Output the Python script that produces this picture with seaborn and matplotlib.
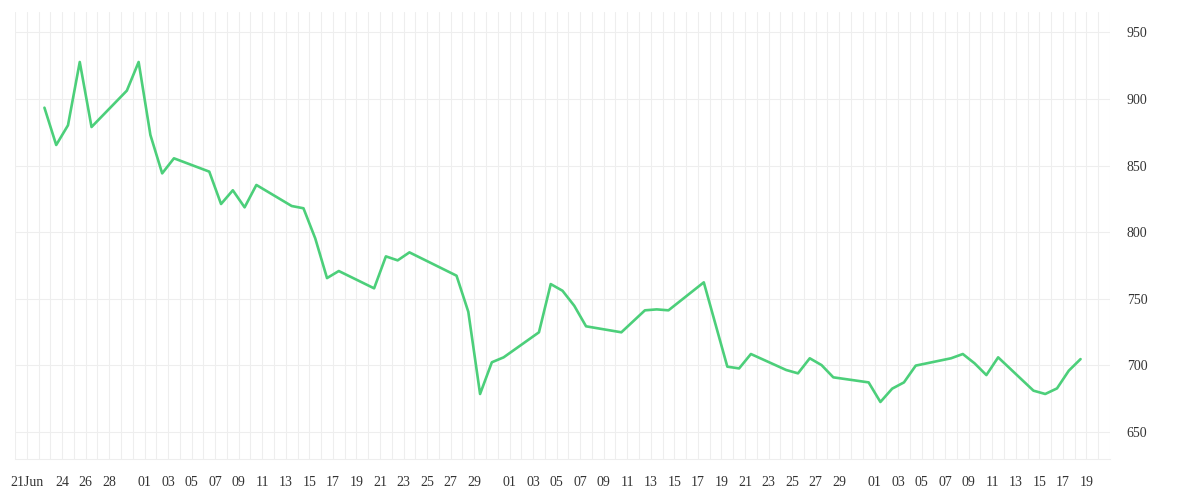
import pandas as pd
import matplotlib
matplotlib.use("Agg")
import matplotlib.pyplot as plt
import matplotlib.dates as mdates
import matplotlib.ticker as mticker
import seaborn as sns

# trading days (2020) and closing values
days = [
    "06-22", "06-23", "06-24", "06-25", "06-26", "06-29", "06-30",
    "07-01", "07-02", "07-03", "07-06", "07-07", "07-08", "07-09", "07-10",
    "07-13", "07-14", "07-15", "07-16", "07-17", "07-20", "07-21", "07-22",
    "07-23", "07-27", "07-28", "07-29", "07-30", "07-31",
    "08-03", "08-04", "08-05", "08-06", "08-07", "08-10", "08-12", "08-13",
    "08-14", "08-17", "08-19", "08-20", "08-21", "08-24", "08-25", "08-26",
    "08-27", "08-28", "08-31",
    "09-01", "09-02", "09-03", "09-04", "09-07", "09-08", "09-09", "09-10",
    "09-11", "09-14", "09-15", "09-16", "09-17", "09-18",
]
values = [
    893.4, 865.4, 880.2, 927.7, 878.9, 906.2, 927.7,
    872.9, 844.1, 855.4, 845.4, 821.1, 831.4, 818.6, 835.4,
    819.6, 817.9, 795.3, 765.5, 770.8, 757.8, 781.8, 778.8,
    784.8, 767.3, 740.2, 678.5, 702.3, 706.0,
    724.8, 761.0, 756.0, 744.7, 729.3, 724.8, 741.3, 742.0,
    741.3, 762.3, 699.0, 697.7, 708.5, 696.5, 694.0, 705.3,
    700.2, 691.0, 687.2,
    672.5, 682.5, 687.2, 699.8, 705.3, 708.5, 701.5, 692.7,
    706.0, 681.0, 678.5, 682.7, 696.0, 704.7,
]

tick_days = ["06-21", "06-24", "06-26", "06-28"] + \
    ["07-%02d" % d for d in range(1, 30, 2)] + \
    ["08-%02d" % d for d in range(1, 30, 2)] + \
    ["09-%02d" % d for d in range(1, 20, 2)]
tick_labels = ["21Jun", "24", "26", "28"] + \
    ["%02d" % d for d in range(1, 30, 2)] + \
    ["%02d" % d for d in range(1, 30, 2)] + \
    ["%02d" % d for d in range(1, 20, 2)]
y_ticks = [650, 700, 750, 800, 850, 900, 950]

df = pd.DataFrame({
    "date": pd.to_datetime(["2020-" + d for d in days]) + pd.Timedelta(hours=12),
    "value": values,
})
label_map = {pd.Timestamp("2020-" + d).date(): t for d, t in zip(tick_days, tick_labels)}

sns.set_style("white")
plt.rcParams["font.family"] = ["Liberation Serif", "DejaVu Serif"]

grid_c = "#eeeeee"
fig = plt.figure(figsize=(12, 5), dpi=100)
ax = fig.add_axes([15 / 1200, 1 - 459 / 500, 1095 / 1200, 446.7 / 500])

sns.lineplot(data=df, x="date", y="value", ax=ax, color="#4ccf7a",
             linewidth=1.9, zorder=3)

ax.set_xlim(pd.Timestamp("2020-06-20"), pd.Timestamp("2020-09-21"))
ax.set_ylim(629.7, 965)

ax.xaxis.set_major_locator(mdates.DayLocator())
ax.xaxis.set_major_formatter(mticker.FuncFormatter(
    lambda x, pos: label_map.get(mdates.num2date(x).date(), "")))
ax.set_yticks(y_ticks)
ax.yaxis.tick_right()

ax.grid(True, color=grid_c, linewidth=0.8, zorder=0)
ax.tick_params(axis="x", length=7.2, width=0.8, color=grid_c, pad=5,
               labelsize=10, labelcolor="#333333")
ax.tick_params(axis="y", length=0, pad=12, labelsize=10, labelcolor="#333333")
for s in ["top", "left", "right"]:
    ax.spines[s].set_visible(False)
ax.spines["bottom"].set_color(grid_c)
ax.spines["bottom"].set_linewidth(0.8)
ax.set_xlabel("")
ax.set_ylabel("")

fig.savefig("out.png", dpi=100)
